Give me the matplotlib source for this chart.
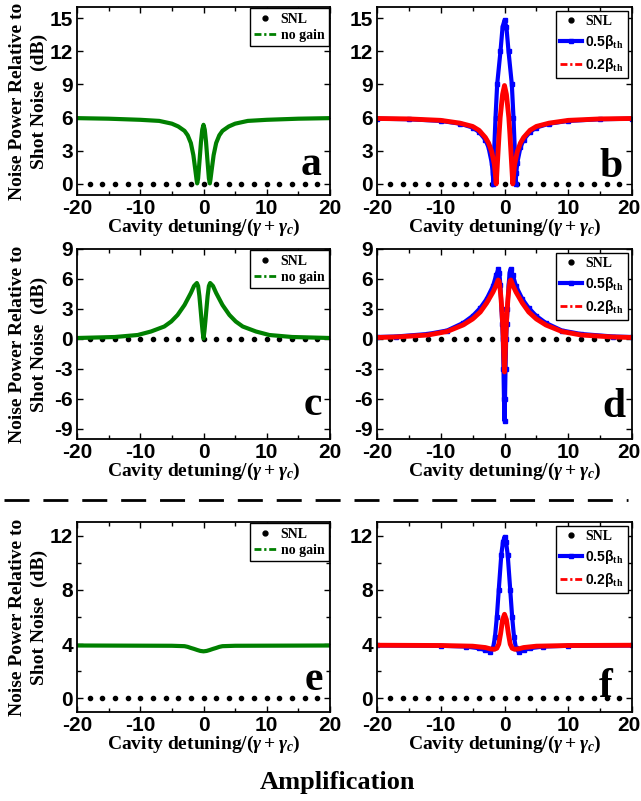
import matplotlib
matplotlib.use('Agg')
import matplotlib.pyplot as plt
from matplotlib.lines import Line2D
from matplotlib.ticker import MultipleLocator
from matplotlib.transforms import ScaledTranslation

plt.rcParams['font.family'] = 'Liberation Serif'
plt.rcParams['font.weight'] = 'bold'
plt.rcParams['axes.labelweight'] = 'bold'
plt.rcParams['axes.unicode_minus'] = False
plt.rcParams['mathtext.fontset'] = 'custom'
plt.rcParams['mathtext.rm'] = 'Liberation Serif:bold'
plt.rcParams['mathtext.it'] = 'Liberation Serif:italic:bold'
plt.rcParams['mathtext.bf'] = 'Liberation Sans:bold'

# shot noise limit dots
snl_x = [-18, -16, -14, -12, -10, -8, -6, -4, -2, 0, 2, 4, 6, 8, 10, 12, 14, 16, 18]
snl_y = [0]*19

# panel a : no gain
xa = [-20, -15, -10, -7, -5, -4, -3, -2.5, -2, -1.6, -1.3, -1.1, -1.0, -0.85, -0.6, -0.4, -0.2, 0,
      0.2, 0.4, 0.6, 0.85, 1.0, 1.1, 1.3, 1.6, 2, 2.5, 3, 4, 5, 7, 10, 15, 20]
ya = [5.95, 5.9, 5.8, 5.7, 5.45, 5.2, 4.8, 4.4, 3.7, 2.6, 1.3, 0.4, 0.05, 0.5, 2.3, 3.8, 4.9, 5.35,
      4.9, 3.8, 2.3, 0.5, 0.05, 0.4, 1.3, 2.6, 3.7, 4.4, 4.8, 5.2, 5.45, 5.7, 5.8, 5.9, 5.95]

# panel b : 0.5 beta_th (blue) and 0.2 beta_th (red)
xb_blue = [-20, -15, -10, -7, -5, -4, -3, -2.5, -2, -1.85, -1.73, -1.62, -1.41, -1.15, -0.63, -0.3, 0,
           0.3, 0.63, 1.15, 1.41, 1.62, 1.73, 1.85, 2, 2.5, 3, 4, 5, 7, 10, 15, 20]
yb_blue = [5.9, 5.85, 5.7, 5.45, 5.1, 4.7, 4.0, 3.3, 1.9, 1.0, 0.0, 3.0, 6.0, 9.0, 12.0, 14.2, 14.8,
           14.2, 12.0, 9.0, 6.0, 3.0, 0.0, 1.0, 1.9, 3.3, 4.0, 4.7, 5.1, 5.45, 5.7, 5.85, 5.9]
xb_red = [-20, -15, -10, -7, -5, -4, -3, -2.5, -2, -1.6, -1.45, -1.3, -1.15, -1.0, -0.85, -0.68, -0.5, -0.3, 0,
          0.3, 0.5, 0.68, 0.85, 1.0, 1.15, 1.3, 1.45, 1.6, 2, 2.5, 3, 4, 5, 7, 10, 15, 20]
yb_red = [5.92, 5.88, 5.75, 5.5, 5.2, 4.85, 4.2, 3.7, 2.9, 1.8, 1.0, 0.0, 1.5, 3.0, 4.5, 6.0, 7.0, 8.1, 8.9,
          8.1, 7.0, 6.0, 4.5, 3.0, 1.5, 0.0, 1.0, 1.8, 2.9, 3.7, 4.2, 4.85, 5.2, 5.5, 5.75, 5.88, 5.92]

# panel c : no gain
xc = [-20, -14, -10.4, -8.3, -6.2, -5.1, -4.1, -3, -2, -1.5, -1.05, -0.85, -0.65, -0.45, -0.3, -0.15, 0,
      0.15, 0.3, 0.45, 0.65, 0.85, 1.05, 1.5, 2, 3, 4.1, 5.1, 6.2, 8.3, 10.4, 14, 20]
yc = [0.1, 0.2, 0.4, 0.75, 1.25, 1.75, 2.4, 3.4, 4.6, 5.3, 5.6, 5.3, 4.3, 2.9, 1.8, 0.8, 0.05,
      0.8, 1.8, 2.9, 4.3, 5.3, 5.6, 5.3, 4.6, 3.4, 2.4, 1.75, 1.25, 0.75, 0.4, 0.2, 0.1]

# panel d
xd_blue = [-20, -17, -12, -9, -6.5, -5, -3.8, -2.8, -1.8, -1.3, -0.95, -0.8, -0.65, -0.47, -0.35, -0.26, -0.16, -0.08, 0,
           0.08, 0.16, 0.26, 0.35, 0.47, 0.65, 0.8, 0.95, 1.3, 1.8, 2.8, 3.8, 5, 6.5, 9, 12, 17, 20]
yd_blue = [0.2, 0.25, 0.5, 0.85, 1.6, 2.3, 3.1, 4.0, 5.3, 6.4, 7.0, 6.6, 5.4, 3.0, 1.5, 0.0, -3.0, -6.0, -8.2,
           -6.0, -3.0, 0.0, 1.5, 3.0, 5.4, 6.6, 7.0, 6.4, 5.3, 4.0, 3.1, 2.3, 1.6, 0.85, 0.5, 0.25, 0.2]
xd_red = [-20, -17, -12, -9, -6.5, -5, -3.8, -2.8, -1.8, -1.3, -1.0, -0.85, -0.7, -0.55, -0.42, -0.3, -0.2, -0.1, 0,
          0.1, 0.2, 0.3, 0.42, 0.55, 0.7, 0.85, 1.0, 1.3, 1.8, 2.8, 3.8, 5, 6.5, 9, 12, 17, 20]
yd_red = [0.15, 0.2, 0.4, 0.75, 1.4, 2.0, 2.7, 3.6, 4.7, 5.4, 5.9, 5.8, 5.1, 4.1, 3.0, 1.6, 0.2, -1.8, -3.3,
          -1.8, 0.2, 1.6, 3.0, 4.1, 5.1, 5.8, 5.9, 5.4, 4.7, 3.6, 2.7, 2.0, 1.4, 0.75, 0.4, 0.2, 0.15]

# panel e : no gain
xe = [-20, -5, -3, -2.5, -2, -1.5, -1, -0.5, 0, 0.5, 1, 1.5, 2, 2.5, 3, 5, 20]
ye = [3.9, 3.88, 3.85, 3.8, 3.72, 3.65, 3.57, 3.5, 3.47, 3.5, 3.57, 3.65, 3.72, 3.8, 3.85, 3.88, 3.9]

# panel f
xf_blue = [-20, -10, -6, -4, -3, -2.2, -1.8, -1.5, -1.2, -0.9, -0.5, -0.25, 0,
           0.25, 0.5, 0.9, 1.2, 1.5, 1.8, 2.2, 3, 4, 6, 10, 20]
yf_blue = [3.9, 3.88, 3.82, 3.7, 3.55, 3.45, 3.7, 4.5, 6.0, 8.0, 10.6, 11.5, 11.9,
           11.5, 10.6, 8.0, 6.0, 4.5, 3.7, 3.45, 3.55, 3.7, 3.82, 3.88, 3.9]
xf_red = [-20, -10, -5, -3, -2.2, -1.6, -1.2, -0.9, -0.6, -0.3, 0,
          0.3, 0.6, 0.9, 1.2, 1.6, 2.2, 3, 5, 10, 20]
yf_red = [3.92, 3.9, 3.85, 3.75, 3.65, 3.62, 3.7, 4.0, 4.8, 5.8, 6.2,
          5.8, 4.8, 4.0, 3.7, 3.62, 3.65, 3.75, 3.85, 3.9, 3.92]

W, H = 641, 801
fig = plt.figure(figsize=(W/100, H/100), dpi=100)

def box(l, t, r, b):
    return [l/W, 1-b/H, (r-l)/W, (b-t)/H]

ax_a = fig.add_axes(box(77, 7, 330, 195))
ax_b = fig.add_axes(box(377, 7, 632, 195))
ax_c = fig.add_axes(box(77, 249, 330, 439))
ax_d = fig.add_axes(box(377, 249, 632, 439))
ax_e = fig.add_axes(box(77, 522, 330, 712))
ax_f = fig.add_axes(box(377, 522, 632, 712))

green = '#008000'
dashdot = (0, (2.5, 1, 0.8, 1))
ylab = 'Noise Power Relative to\nShot Noise  (dB)'
xlab = r'Cavity detuning/$(\gamma+\gamma_c)$'

def style(ax, ylim, yticks, ymin, letter, lx, ly, left):
    ax.set_xlim(-20, 20)
    ax.set_ylim(*ylim)
    ax.set_xticks([-20, -10, 0, 10, 20])
    ax.xaxis.set_minor_locator(MultipleLocator(5))
    ax.set_yticks(yticks)
    if ymin:
        ax.yaxis.set_minor_locator(MultipleLocator(ymin))
    ax.tick_params(which='both', direction='in', top=True, right=True, width=1, pad=3,
                   labelsize=15, labelfontfamily='Liberation Sans')
    ax.tick_params(which='major', length=4)
    ax.tick_params(which='minor', length=3)
    for s in ax.spines.values():
        s.set_linewidth(1.3)
    ax.set_xlabel(xlab, fontsize=14, va='baseline')
    ax.xaxis.set_label_coords(0.5, -37/190)
    if left:
        ax.set_ylabel(ylab, fontsize=14, va='center', ha='center', linespacing=1.35)
        ax.yaxis.set_label_coords(-0.19, 0.5)
    else:
        # keep the last "20" inside the figure edge
        lab = ax.xaxis.get_major_ticks()[-1].label1
        lab.set_transform(lab.get_transform() + ScaledTranslation(-3/100, 0, fig.dpi_scale_trans))
    ax.text(lx, ly, letter, transform=ax.transAxes, ha='right', va='baseline', fontsize=30)

def legend_nogain(ax):
    h1 = Line2D([], [], color='k', marker='.', ls='none', ms=7)
    h2 = Line2D([], [], color=green, ls=dashdot, lw=2)
    leg = ax.legend([h1, h2], ['SNL', 'no gain'], loc='upper right', fontsize=10,
                    fancybox=False, edgecolor='k', framealpha=1, borderpad=0.3,
                    handlelength=1.6, handletextpad=0.3, labelspacing=0.25, borderaxespad=0.1)
    leg.get_frame().set_linewidth(1.0)

def legend_gain(ax, blue_line):
    h1 = Line2D([], [], color='k', marker='.', ls='none', ms=7)
    h3 = Line2D([], [], color='red', ls=dashdot, lw=2)
    leg = ax.legend([h1, blue_line, h3],
                    ['SNL', r'$\mathbf{0.5\beta}_{\mathrm{th}}$', r'$\mathbf{0.2\beta}_{\mathrm{th}}$'],
                    loc='upper right', fontsize=10, fancybox=False, edgecolor='k', framealpha=1,
                    borderpad=0.3, handlelength=1.6, handletextpad=0.2, labelspacing=0.35,
                    borderaxespad=0.3)
    leg.get_frame().set_linewidth(1.0)

# row 1
ax_a.plot(snl_x, snl_y, 'k.', ms=6)
ax_a.plot(xa, ya, color=green, lw=3)
style(ax_a, (-1, 16), [0, 3, 6, 9, 12, 15], None, 'a', 0.968, 0.106, True)
legend_nogain(ax_a)

ax_b.plot(snl_x, snl_y, 'k.', ms=6)
lb, = ax_b.plot(xb_blue, yb_blue, color='blue', lw=3, marker='s', ms=3)
ax_b.plot(xb_red, yb_red, color='red', lw=3.5)
style(ax_b, (-1, 16), [0, 3, 6, 9, 12, 15], None, 'b', 0.965, 0.096, False)
legend_gain(ax_b, lb)

# row 2
ax_c.plot(snl_x, snl_y, 'k.', ms=6)
ax_c.plot(xc, yc, color=green, lw=3)
style(ax_c, (-10, 9), [-9, -6, -3, 0, 3, 6, 9], None, 'c', 0.968, 0.126, True)
legend_nogain(ax_c)

ax_d.plot(snl_x, snl_y, 'k.', ms=6)
ld, = ax_d.plot(xd_blue, yd_blue, color='blue', lw=3, marker='s', ms=3)
ax_d.plot(xd_red, yd_red, color='red', lw=3.5)
style(ax_d, (-10, 9), [-9, -6, -3, 0, 3, 6, 9], None, 'd', 0.973, 0.116, False)
legend_gain(ax_d, ld)

# row 3
ax_e.plot(snl_x, snl_y, 'k.', ms=6)
ax_e.plot(xe, ye, color=green, lw=3)
style(ax_e, (-1, 13), [0, 4, 8, 12], 2, 'e', 0.972, 0.116, True)
legend_nogain(ax_e)

ax_f.plot(snl_x, snl_y, 'k.', ms=6)
lf, = ax_f.plot(xf_blue, yf_blue, color='blue', lw=3, marker='s', ms=3)
ax_f.plot(xf_red, yf_red, color='red', lw=3.5)
style(ax_f, (-1, 13), [0, 4, 8, 12], 2, 'f', 0.925, 0.079, False)
legend_gain(ax_f, lf)

# separator and caption
fig.add_artist(Line2D([4/W, 628/W], [1-500/H, 1-500/H], transform=fig.transFigure,
                      color='k', lw=2, linestyle=(0, (9, 5))))
fig.text(337/W, 1-783/H, 'Amplification', ha='center', va='center', fontsize=19)

fig.savefig('out.png', dpi=100)
